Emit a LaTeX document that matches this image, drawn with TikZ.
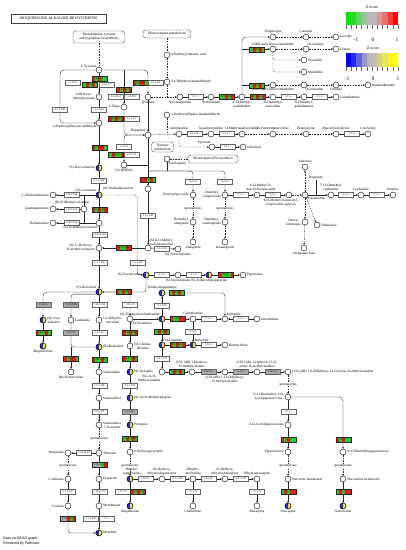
\documentclass[tikz,border=0pt]{standalone}
\usepackage{fontspec}
\setmainfont{Liberation Serif}
\setsansfont{Liberation Sans}
\usetikzlibrary{arrows.meta,calc}
\pgfdeclarelayer{bg}
\pgfsetlayers{bg,main}
\definecolor{cr}{RGB}{232,30,35}
\definecolor{cg}{RGB}{40,205,40}
\definecolor{cy}{RGB}{168,168,168}
\definecolor{cB}{RGB}{40,40,225}
\definecolor{cY}{RGB}{240,228,40}
\definecolor{eB}{RGB}{100,100,100}
\definecolor{zg1}{RGB}{0,230,0}\definecolor{zg2}{RGB}{40,220,40}\definecolor{zg3}{RGB}{100,210,100}
\definecolor{zg4}{RGB}{150,195,150}\definecolor{zg5}{RGB}{185,185,185}\definecolor{zg6}{RGB}{192,180,180}
\definecolor{zg7}{RGB}{215,150,150}\definecolor{zg8}{RGB}{235,110,110}\definecolor{zg9}{RGB}{245,60,60}\definecolor{zg10}{RGB}{255,0,0}
\definecolor{zb1}{RGB}{0,0,255}\definecolor{zb2}{RGB}{40,40,240}\definecolor{zb3}{RGB}{100,100,220}
\definecolor{zb4}{RGB}{150,150,200}\definecolor{zb5}{RGB}{185,185,185}\definecolor{zb6}{RGB}{192,192,170}
\definecolor{zb7}{RGB}{210,210,130}\definecolor{zb8}{RGB}{230,230,90}\definecolor{zb9}{RGB}{245,245,40}\definecolor{zb10}{RGB}{255,255,0}
\tikzset{
  met/.style={circle,draw=black,fill=white,inner sep=0pt,outer sep=0pt,minimum size=6pt,line width=0.4pt},
  enz/.style={rectangle,draw=eB,fill=white,inner sep=0pt,outer sep=0pt,minimum width=15pt,minimum height=5pt,line width=0.35pt,font=\fontsize{2.7}{2.7}\selectfont},
  etx/.style={inner sep=0pt,font=\fontsize{2.7}{2.7}\selectfont},
  lb/.style={font=\fontsize{3.5}{3.9}\selectfont,inner sep=0.4pt,align=center},
  pw/.style={rectangle,rounded corners=3pt,draw=black!70,fill=white,line width=0.35pt,font=\fontsize{3.5}{3.9}\selectfont,align=center,inner sep=1pt},
  ln/.style={draw=black!85,line width=0.35pt},
  dl/.style={ln,dash pattern=on 1.6pt off 1.1pt},
  ar/.style={-{Stealth[length=2.2pt,width=1.8pt]}},
  sp/.style={lb,fill=white,inner sep=0.2pt},
}
\newcommand\Mt[5]{\node[met] (#1) at (#2,#3) {};\node[lb,#4] (#1-l) at (#1) {#5};}
\newcommand\Byz[5]{\node[met] (#1) at (#2,#3) {};
  \begin{scope}\clip (#1) circle (3pt);
  \fill[cB] ($(#1)+(-3.1,-3.1)$) rectangle ($(#1)+(0,3.1)$);
  \fill[cY] ($(#1)+(0,-3.1)$) rectangle ($(#1)+(3.1,3.1)$);
  \end{scope}
  \draw[line width=0.4pt] (#1) circle (3pt);
  \node[lb,#4] (#1-l) at (#1) {#5};}
\newcommand\Ez[4]{\node[enz] (#1) at (#2,#3) {#4};}
\newcommand\Gz[4]{\node[enz,fill=cy] (#1) at (#2,#3) {#4};}
\newcommand\Cz[5]{\node[enz] (#1) at (#2,#3) {};
  \foreach \stc [count=\i from 0] in {#5}{\fill[\stc] ($(#1.north west)+(\i*3,0)$) rectangle ++(3,5);}
  \draw[black!85,line width=0.35pt] (#1.north west) rectangle (#1.south east);
  \node[etx] at (#1) {#4};}
\begin{document}
\begin{tikzpicture}[x=1pt,y=-1pt]
\useasboundingbox (0,0) rectangle (406,550);
\begin{pgfonlayer}{bg}\fill[white] (0,0) rectangle (406,550);\end{pgfonlayer}

% ---------- title and pathway boxes
\node[draw=black!75,line width=0.5pt,minimum width=95pt,minimum height=9pt,inner sep=0pt,font=\fontsize{3.9}{4}\selectfont] (title) at (58.5,18.5) {ISOQUINOLINE ALKALOID BIOSYNTHESIS};
\node[pw,minimum width=52pt,minimum height=12pt] (pwA) at (99,37) {Phenylalanine, tyrosine\\and tryptophan biosynthesis};
\node[pw,minimum width=48pt,minimum height=8pt] (pwB) at (167,34) {Phenylalanine metabolism};
\node[pw,minimum width=22pt,minimum height=10pt] (pwC) at (162.5,147) {Tyrosine\\metabolism};
\node[pw,minimum width=50pt,minimum height=8pt] (pwD) at (213,159) {Monoterpenoid biosynthesis};

% ---------- metabolites, upper left
\Mt{tyr}{99}{70}{anchor=south east,xshift=-2pt,yshift=1pt}{L-Tyrosine}
\Mt{hpp}{99}{97}{left=3.5pt}{4-Hydroxy-\\phenylpyruvate}
\Mt{hpaa}{99}{123}{anchor=north east,xshift=-2pt,yshift=-1pt}{4-Hydroxyphenylacetaldehyde}
\Mt{ldopa}{124}{107}{left=3.5pt}{L-Dopa}
\Mt{tyra}{148}{97}{below=3.5pt}{Tyramine}
\Mt{hca}{167}{55}{right=3.5pt}{4-Hydroxycinnamic acid}
\Mt{dhba}{167}{82}{right=3.5pt}{3,4-Dihydroxybenzaldehyde}
\Mt{hdca}{167}{115}{right=3.5pt}{4-Hydroxydihydrocinnamaldehyde}
\Mt{dopa}{148}{135}{anchor=south east,xshift=-2pt,yshift=2pt}{Dopamine}
\Mt{dhpaa}{124}{165}{below=3.5pt}{3,4-DHPAA}
\Byz{norc}{99}{168}{left=3.5pt}{(S)-Norcoclaurine}
\Byz{coc}{99}{195}{anchor=south east,xshift=-2pt,yshift=2pt}{(S)-Coclaurine}
\Mt{nlaud}{148}{189}{left=14pt}{(S)-Norlaudanosoline}
\Mt{nbm}{53}{195}{left=3.5pt}{2'-Norberbamunine}
\Mt{guat}{53}{209}{left=3.5pt}{Guattegaumerine}
\Mt{berb}{53}{223}{left=3.5pt}{Berbamunine}
\Mt{rnmc}{84}{209}{anchor=south,xshift=-12pt,yshift=4pt}{(R)-N-Methylcoclaurine}
\Mt{snmc}{99}{223}{anchor=north east,xshift=-1pt,yshift=-2pt}{(S)-N-Methylcoclaurine}
\Mt{s3h}{99}{248}{left=3.5pt}{(S)-3'-Hydroxy-\\N-methylcoclaurine}
\Mt{omn}{148}{248}{anchor=south west,xshift=1pt,yshift=2pt}{(S)-6-O-Methyl-\\norlaudanosoline}
\Mt{noro}{178}{249}{below=3.5pt}{(S)-Nororientaline}
\Byz{norr}{146}{275}{left=3.5pt}{(S)-Norreticuline}
\Mt{nlau}{178}{275}{below=3.5pt}{(S)-Norlaudanine}
\Byz{thp}{209}{275}{below=3.5pt}{(S)-Tetrahydropapaverine}
\Mt{pap}{243}{275}{right=3.5pt}{Papaverine}
\Byz{sret}{99}{292}{anchor=south east,xshift=-2pt,yshift=2pt}{(S)-Reticuline}

% ---------- morphine / magnoflorine column
\Byz{cory}{43}{320}{right=3.5pt}{(S)-Cory-\\tuberine}
\Byz{magn}{43}{346}{below=3.5pt}{Magnoflorine}
\Mt{laud}{71}{320}{right=3.5pt}{Laudanine}
\Mt{dhr}{99}{320}{right=3.5pt}{1,2-Dehydro-\\reticuline}
\Byz{rret}{99}{347}{right=3.5pt}{(R)-Reticuline}
\Mt{rnor}{71}{372}{below=3.5pt}{(R)-Norreticuline}
\Mt{salu}{99}{372}{right=3.5pt}{Salutaridine}
\Mt{salol}{99}{398}{right=3.5pt}{Salutaridinol}
\Mt{salac}{99}{425}{right=3.5pt}{Salutaridinol\\7-O-acetate}
\Mt{theb}{99}{453}{right=3.5pt}{Thebaine}
\Mt{neop}{68}{453}{left=3.5pt}{Neopinone}
\Mt{codn}{68}{479}{left=3.5pt}{Codeinone}
\Mt{cod}{68}{506}{left=3.5pt}{Codeine}
\Mt{orip}{99}{479}{right=3.5pt}{Oripavine}
\Mt{mone}{99}{506}{right=3.5pt}{Morphinone}
\Byz{morph}{99}{533}{right=3.5pt}{Morphine}

% ---------- sanguinarine column
\Mt{scou}{130}{319}{anchor=north west,xshift=1pt,yshift=-2.5pt}{(S)-Scoulerine}
\Mt{chei}{130}{346}{right=3.5pt}{(S)-Cheilan-\\thifoline}
\Byz{styl}{130}{372}{right=3.5pt}{(S)-Stylopine}
\Byz{cnms}{130}{398}{right=3.5pt}{(S)-cis-N-Methylstylopine}
\Byz{prot}{130}{425}{right=3.5pt}{Protopine}
\Mt{hprot}{130}{452}{right=3.5pt}{6-Hydroxyprotopine}
\Byz{dhs}{130}{479}{anchor=south,xshift=2pt,yshift=3.5pt}{Dihydro-\\sanguinarine}
\Byz{sang}{130}{506}{below=3.5pt}{Sanguinarine}
\Mt{hdhs}{162}{479}{above=3.5pt}{10-Hydroxy-\\dihydrosanguinarine}
\Mt{dhc}{193}{479}{above=3.5pt}{Dihydro-\\chelirubine}
\Mt{hdhc}{225}{479}{above=3.5pt}{12-Hydroxy-\\dihydrochelirubine}
\Mt{dhm}{257}{479}{above=3.5pt}{Dihydromacarpine}
\Mt{cheli}{193}{506}{below=3.5pt}{Chelirubine}
\Mt{maca}{257}{506}{below=3.5pt}{Macarpine}

% ---------- berberine / noscapine
\Byz{thpal}{162}{293}{above=3.5pt}{Tetrahydropalmatine}
\Byz{thc}{162}{319}{anchor=south east,xshift=-1.5pt,yshift=2pt}{(S)-Tetrahydrocolumbamine}
\Mt{colu}{193}{319}{above=3.5pt}{Columbamine}
\Mt{palm}{225}{319}{anchor=south west,xshift=1pt,yshift=2.5pt}{Palmatine}
\Mt{jatr}{257}{319}{right=3.5pt}{Jatrorrhizine}
\Byz{can}{162}{345}{anchor=south west,xshift=1pt,yshift=2.5pt}{(S)-Canadine}
\Byz{berbe}{193}{345}{anchor=south west,xshift=1pt,yshift=2.5pt}{Berberine}
\Mt{bbr}{225}{345}{right=3.5pt}{Berberrubine}
\Mt{cnmc}{162}{372}{anchor=north east,xshift=-1pt,yshift=-2.5pt}{(S)-cis-N-\\Methylcanadine}
\Mt{hnm}{192}{372}{above=3.5pt}{(13S,14R)-1-Hydroxy-\\N-methylcanadine}
\Mt{dhnm}{225}{372}{below=3.5pt}{(13S,14R)-1,13-Dihydroxy-\\N-methylcanadine}
\Mt{hac}{257}{372}{above=3.5pt}{(13S,14R)-1-Hydroxy-13-O-\\acetyl-N-methylcanadine}
\Mt{dhac}{288}{372}{right=3.5pt}{(13S,14R)-1,8-Dihydroxy-13-O-acetyl-N-methylcanadine}
\Mt{dapx}{288}{397}{left=3.5pt}{4'-O-Desmethyl-3-O-\\acetylpapaveroxine}
\Mt{apx}{288}{425}{left=3.5pt}{3-O-Acetylpapaveroxine}
\Mt{ppx}{288}{452}{left=3.5pt}{Papaveroxine}
\Mt{nhemi}{288}{479}{right=3.5pt}{Narcotine hemiacetal}
\Byz{nosc}{288}{506}{below=3.5pt}{Noscapine}
\Mt{dppx}{343}{452}{right=3.5pt}{4'-O-Desmethylpapaveroxine}
\Mt{nthemi}{343}{479}{right=3.5pt}{Narcotoline hemiacetal}
\Byz{narc}{343}{506}{below=3.5pt}{Narcotoline}

% ---------- Amaryllidaceae
\Mt{ncr}{180}{97}{below=3.5pt}{Norcraugsodine}
\Mt{nbel}{211}{97}{below=3.5pt}{Norbelladine}
\Mt{mnb}{242}{97}{below=3.5pt}{4'-O-Methyl-\\norbelladine}
\Mt{ndn}{273}{97}{below=3.5pt}{N-Demethyl-\\narwedine}
\Mt{ndg}{304}{97}{below=3.5pt}{N-Demethyl-\\galanthamine}
\Mt{gal}{336}{97}{right=3.5pt}{Galanthamine}
\Mt{npl}{273}{37}{above=3.5pt}{Norpluviine}
\Mt{car}{306}{37}{above=3.5pt}{Caranine}
\Mt{lyc}{336}{37}{right=3pt}{Lycorine}
\Mt{nox1}{273}{49}{above=2.5pt}{(10bR,4aS)-Noroxomaritidine}
\Mt{oxc}{306}{49}{anchor=south west,xshift=1pt,yshift=2.5pt}{Oxocrinine}
\Mt{crin}{336}{49}{right=3.5pt}{Crinine}
\Mt{pow}{304}{60}{right=3.5pt}{Powelline}
\Mt{mari}{304}{72}{right=3.5pt}{Maritidine}
\Mt{nox2}{273}{85}{below=2.5pt}{(10bS,4aR)-Noroxomaritidine}
\Mt{oxv}{304}{85}{anchor=north west,xshift=1pt,yshift=-2.5pt}{Oxovittatine}
\Mt{vitt}{336}{85}{below=2.5pt}{Vittatine}
\Mt{haem}{368}{85}{right=3.5pt}{Haemanthamine}

% ---------- colchicine
\Mt{aut}{179}{134}{above=3.5pt}{Autumnaline}
\Mt{iso}{211}{134}{above=3.5pt}{Isoandrocymbine}
\Mt{oma}{242}{134}{above=3.5pt}{O-Methylandrocymbine}
\Mt{nfd}{273}{134}{above=3.5pt}{N-Formyldemecolcine}
\Mt{dem}{306}{134}{above=3.5pt}{Demecolcine}
\Mt{dac}{336}{134}{above=3.5pt}{Deacetylcolchicine}
\Mt{colc}{368}{134}{above=3.5pt}{Colchicine}
\Mt{p1}{212}{147}{anchor=south east,xshift=-1pt,yshift=2pt}{Pyruvate}
\Mt{p2}{243}{147}{right=3.5pt}{Salsolinol}

% ---------- ipecac / emetine
\Mt{seco}{167}{159}{anchor=north west,xshift=1pt,yshift=-2pt}{Secologanin}
\Mt{dip}{193}{195}{left=3.5pt}{Deacetylipecoside}
\Mt{dmal}{193}{222}{left=3.5pt}{Demethyl-\\alangiside}
\Mt{alg}{193}{242}{below=3.5pt}{Alangiside}
\Mt{diso}{225}{195}{left=3.5pt}{Deacetyl-\\isoipecoside}
\Mt{dmia}{225}{222}{left=3.5pt}{Demethyl-\\isoalangiside}
\Mt{isoal}{225}{242}{below=3.5pt}{Isoalangiside}
\Mt{mdi}{257}{195}{anchor=south,xshift=4pt,yshift=3.5pt}{6-O-Methyl-N-\\deacetylisoipecoside}
\Mt{agl}{289}{195}{anchor=north,xshift=-8pt,yshift=-3.5pt}{6-O-Methyl-N-deacetyl-\\isoipecoside aglycon}
\Mt{protoem}{305}{195}{anchor=north west,xshift=1pt,yshift=-2pt}{Protoemetine}
\Mt{ank}{305}{167}{above=3.5pt}{Ankorine}
\Mt{dmc}{331}{195}{above=3.5pt}{7'-O-Demethyl-\\cephaeline}
\Mt{ceph}{361}{195}{above=3.5pt}{Cephaeline}
\Mt{emet}{393}{195}{above=3.5pt}{Emetine}
\Mt{dtub}{305}{222}{left=3.5pt}{Deoxy-\\tubulosine}
\Mt{tub}{317}{225}{right=3.5pt}{Tubulosine}
\Mt{alm}{304}{248}{below=3.5pt}{Alangimarckine}
\node[lb] (dopt) at (316,178) {Dopamine};

% ---------- junction points
\coordinate (jt1) at (124,70);
\coordinate (jtl) at (60,123);
\coordinate (jd) at (148,165);
\coordinate (jn1) at (167,97);
\coordinate (jn2) at (167,134);
\coordinate (js) at (148,171);
\coordinate (jsc) at (167,171);
\coordinate (jdo) at (316,195);
\coordinate (jr1) at (84,195);
\coordinate (jr2) at (84,223);
\coordinate (jcc) at (137.5,258);
\coordinate (jl1) at (71,347);
\coordinate (jm1) at (242,49);
\coordinate (jm2) at (242,85);

% ---------- enzyme boxes
\Cz{e1}{99.5}{78.5}{2.6.1.5}{cr,cg,cr,cg,cg}
\Cz{e2}{90}{84.5}{2.6.1.1}{cg,cr,cg,cr,cg}
\Ez{e3}{106.5}{84.5}{2.6.1.57}
\Ez{e4}{73}{82.5}{1.4.3.2}
\Ez{e5}{60}{109.5}{4.1.1.108}
\Ez{e6}{99}{109.5}{4.1.1.80}
\Cz{e7}{124}{90}{1.14.18.1}{cr,cg,cr,cg,cr}
\Ez{e8}{116}{96.5}{1.14.16.2}
\Ez{e9}{131.5}{96.5}{1.14.18.1}
\Cz{e10}{140.5}{82.5}{4.1.1.25}{cr,cg,cr,cr,cg}
\Ez{e11}{155.5}{82.5}{4.1.1.28}
\Cz{e12}{116}{118.5}{4.1.1.28}{cr,cg,cr,cg,cr}
\Ez{e13}{131.5}{118.5}{4.1.1.25}
\Cz{e14}{99.5}{147.5}{4.2.1.78}{cr,cg,cr,cr,cg}
\Ez{e15}{124}{146.5}{1.4.3.4}
\Cz{e16}{116}{154.5}{1.4.3.4}{cg,cr,cg,cg,cr}
\Ez{e17}{131.5}{154.5}{4.2.1.78}
\Cz{e18}{148}{179.5}{4.2.1.78}{cr,cr,cg,cr,cg}
\Ez{e19}{99}{180.5}{2.1.1.128}
\Ez{e20}{71.5}{195}{1.14.19.66}
\Ez{e21}{71.5}{209.5}{1.14.19.66}
\Ez{e22}{71.5}{223}{1.14.19.66}
\Cz{e23}{99.5}{209.5}{2.1.1.140}{cr,cg,cr,cg,cr}
\Ez{e24}{99.5}{235}{1.14.14.102}
\Cz{e25}{124}{248}{2.1.1.140}{cr,cg,cg,cr,cr}
\Ez{e26}{148}{215.5}{2.1.1.128}
\Ez{e27}{162}{248.5}{2.1.1.116}
\Ez{e28}{99.5}{262.5}{2.1.1.116}
\Ez{e29}{137.5}{262.5}{2.1.1.116}
\Ez{e30}{162}{275}{2.1.1.-}
\Ez{e31}{194}{275}{2.1.1.-}
\Cz{e32}{226}{275}{1.5.3.-}{cr,cg,cg,cg,cr}
\Cz{e33}{123.5}{292}{2.1.1.140}{cr,cg,cr,cg,cr}
\Gz{e34}{43.5}{305}{1.14.19.-}
\Cz{e35}{43.5}{332.5}{2.1.1.-}{cr,cg,cg,cr,cg}
\Gz{e36}{71}{305}{1.14.19.54}
\Gz{e37}{71}{332.5}{1.5.1.27}
\Ez{e38}{99.5}{305}{1.14.19.54}
\Ez{e39}{99.5}{332.5}{1.5.1.27}
\Ez{e40}{130}{305}{1.21.3.3}
\Cz{e41}{130}{332.5}{1.14.19.65}{cr,cg,cr,cg,cr}
\Cz{e42}{130}{358.5}{1.14.19.64}{cr,cg,cg,cr,cg}
\Ez{e43}{130}{385.5}{2.1.1.122}
\Gz{e44}{130}{412}{1.14.19.-}
\Cz{e45}{130}{439}{1.14.14.98}{cg,cr,cg,cr,cg}
\Ez{e46}{122.5}{492}{1.5.3.12}
\Cz{e47}{138}{492}{1.5.3.12}{cr,cg,cr,cg,cr}
\Ez{e48}{145.5}{479}{1.14.14.-}
\Ez{e49}{177.5}{479}{2.1.1.119}
\Ez{e50}{209}{479}{1.14.14.-}
\Ez{e51}{241}{479}{2.1.1.120}
\Ez{e52}{193}{491.5}{1.5.3.12}
\Ez{e53}{257}{491.5}{1.5.3.12}
\Ez{e54}{162}{306}{2.1.1.89}
\Cz{e55}{176.5}{293}{1.3.3.8}{cg,cr,cg,cr,cg}
\Cz{e56}{177.5}{319}{1.3.3.8}{cr,cg,cg,cr,cr}
\Ez{e57}{209}{319}{2.1.1.-}
\Ez{e58}{241}{319}{2.1.1.-}
\Cz{e59}{162}{331.5}{1.14.19.68}{cg,cr,cg,cr,cg}
\Ez{e60}{193}{332}{1.14.19.-}
\Cz{e61}{177.5}{345}{1.3.3.8}{cr,cg,cr,cg,cr}
\Ez{e62}{209}{345}{1.14.-.-}
\Ez{e63}{162}{358.5}{2.1.1.122}
\Cz{e64}{177}{372}{1.14.14.-}{cg,cr,cg,cr,cg}
\Gz{e65}{208.5}{372}{1.14.14.-}
\Gz{e66}{241}{372}{2.3.1.-}
\Gz{e67}{272.5}{372}{1.14.14.-}
\Ez{e68}{288.5}{411.5}{2.1.1.-}
\Cz{e69}{288.5}{439.5}{3.1.1.-}{cr,cg,cr,cg,cg}
\Cz{e70}{288.5}{492}{1.1.1.-}{cg,cr,cg,cr,cr}
\Cz{e71}{343.5}{439.5}{3.1.1.-}{cr,cg,cr,cg,cg}
\Cz{e72}{343.5}{492}{1.1.1.-}{cg,cr,cg,cr,cr}
\Cz{e73}{99.5}{359.5}{1.14.19.67}{cr,cg,cg,cr,cg}
\Cz{e74}{71}{359}{1.5.1.-}{cr,cg,cr,cr,cg}
\Ez{e75}{99.5}{385.5}{1.1.1.248}
\Ez{e76}{99.5}{411.5}{2.3.1.150}
\Cz{e77}{99.5}{465}{1.14.11.31}{cy,cy,cy,cg,cr}
\Ez{e78}{84}{453}{1.14.11.32}
\Ez{e79}{99.5}{492}{1.14.11.31}
\Ez{e80}{91}{519}{1.1.1.247}
\Ez{e81}{107}{519}{1.3.1.-}
\Ez{e82}{68}{492}{1.1.1.247}
\Cz{e83}{68}{519}{1.14.11.32}{cy,cy,cr,cg,cr}
\Ez{e84}{195.5}{97}{1.1.1.-}
\Cz{e85}{226.5}{97}{2.1.1.336}{cg,cg,cr,cg,cr}
\Cz{e86}{257.5}{97}{1.14.19.-}{cr,cg,cr,cg,cr}
\Cz{e87}{257}{49.5}{1.14.19.-}{cg,cr,cg,cr,cg}
\Cz{e88}{257}{85.5}{1.14.19.-}{cg,cr,cg,cr,cg}
\Ez{e89}{288.5}{97}{1.1.1.-}
\Ez{e90}{320}{97}{2.1.1.-}
\Ez{e91}{195}{134}{1.14.19.-}
\Ez{e92}{226.5}{134}{2.1.1.-}
\Ez{e93}{352}{134}{2.3.1.-}
\Ez{e94}{227.5}{147}{2.1.1.-}
\Ez{e95}{193}{182}{4.3.3.4}
\Ez{e96}{225}{182}{4.3.3.3}
\Ez{e97}{241}{195}{2.1.1.-}
\Ez{e98}{273}{195}{3.2.1.-}
\Ez{e99}{346}{195}{2.1.1.-}
\Ez{e100}{377}{195}{2.1.1.-}

% ---------- "spontaneous" notes
\node[sp] (sp1) at (99,438.5) {spontaneous};
\node[sp] (sp2) at (68,466) {spontaneous};
\node[sp] (sp3) at (130,465.5) {spontaneous};
\node[sp] (sp4) at (288,384.5) {spontaneous};
\node[sp] (sp5) at (288,465.5) {spontaneous};
\node[sp] (sp6) at (343,465.5) {spontaneous};
\node[sp] (sp7) at (193,208.5) {spontaneous};
\node[sp] (sp8) at (225,208.5) {spontaneous};

% ---------- connectors (behind)
\begin{pgfonlayer}{bg}
\draw[dl] (pwA) -- (tyr);
\draw[ln,ar] (tyr) -- (hpp);
\draw[ln,ar] (hpp) -- (hpaa);
\draw[ln,ar,rounded corners=4pt] (tyr.west) -| (jtl) -- (hpaa.west);
\draw[ln,ar,rounded corners=4pt] (tyr.east) -| (tyra.north);
\draw[ln,ar] (jt1) -- (ldopa);
\draw[ln,ar,rounded corners=4pt] (ldopa.south) |- (dopa.west);
\draw[ln,ar] (tyra) -- (dopa);
\draw[ln,ar,rounded corners=3pt] (dopa.west) -| (dhpaa.north);
\draw[ln,ar] (hpaa) -- (norc);
\draw[ln,ar] (dopa) -- (nlaud);
\draw[ln] (dhpaa.east) -- (jd);
\draw[dl] (pwB) -- (hca);
\draw[dl,ar] (hca) -- (dhba);
\draw[dl] (dhba) -- (jn1);
\draw[dl,ar] (tyra) -- (ncr);
\draw[dl] (hdca) -- (jn2);
\draw[dl,ar] (dopa) -- (aut);
\draw[dl,ar,rounded corners=2pt] (aut.south) |- (p1.west);
\draw[ln,ar] (p1) -- (p2);
\draw[ln,ar] (aut) -- (iso);
\draw[ln,ar] (iso) -- (oma);
\draw[dl,ar] (oma) -- (nfd);
\draw[dl,ar] (nfd) -- (dem);
\draw[dl,ar] (dem) -- (dac);
\draw[ln,ar] (dac) -- (colc);
% Amaryllidaceae
\draw[ln,ar] (ncr) -- (nbel);
\draw[ln,ar] (nbel) -- (mnb);
\draw[ln,ar] (mnb) -- (ndn);
\draw[ln,ar] (ndn) -- (ndg);
\draw[ln,ar] (ndg) -- (gal);
\draw[ln,ar,rounded corners=4pt] (mnb.north) |- (npl.west);
\draw[ln,ar] (jm1) -- (nox1);
\draw[ln,ar] (jm2) -- (nox2);
\draw[dl,ar] (npl) -- (car);
\draw[dl,ar] (car) -- (lyc);
\draw[dl,ar] (nox1) -- (oxc);
\draw[dl,ar] (oxc) -- (crin);
\draw[dl,ar,rounded corners=2pt] (nox1.south) |- (pow.west);
\draw[dl,ar,rounded corners=2pt] (nox1.south) |- (mari.west);
\draw[dl,ar] (nox2) -- (oxv);
\draw[dl,ar] (oxv) -- (vitt);
\draw[dl,ar] (vitt) -- (haem);
% ipecac
\draw[dl] (pwD.west) -- (seco.east);
\draw[ln] (seco) -- (jsc);
\draw[ln,ar,rounded corners=3pt] (js) -| (dip.north);
\draw[ln,ar,rounded corners=3pt] (js) -| (diso.north);
\draw[dl,ar] (dip) -- (dmal);
\draw[dl,ar] (dmal) -- (alg);
\draw[dl,ar] (diso) -- (dmia);
\draw[dl,ar] (dmia) -- (isoal);
\draw[ln,ar] (diso) -- (mdi);
\draw[ln,ar] (mdi) -- (agl);
\draw[dl,ar] (agl) -- (protoem);
\draw[ln,ar] (protoem) -- (dmc);
\draw[ln] (dopt.south) -- (jdo);
\draw[ln,ar] (dmc) -- (ceph);
\draw[ln,ar] (ceph) -- (emet);
\draw[dl,ar] (protoem) -- (ank);
\draw[dl,ar] (protoem) -- (dtub);
\draw[dl,ar] (protoem) -- (tub);
\draw[dl,ar] (dtub) -- (alm);
% benzylisoquinolines
\draw[ln,ar] (norc) -- (coc);
\draw[ln,ar] (coc) -- (snmc);
\draw[ln,ar] (snmc) -- (s3h);
\draw[ln,ar] (s3h) -- (sret);
\draw[ln,ar] (coc) -- (nbm);
\draw[ln,ar] (rnmc) -- (guat);
\draw[ln,ar] (snmc) -- (berb);
\draw[ln] (rnmc) -- (jr1);
\draw[ln] (rnmc) -- (jr2);
\draw[dl,rounded corners=3pt] (coc.east) -| (jcc);
\draw[ln,ar,rounded corners=3pt] (jcc) |- (norr.west);
\draw[ln,ar] (nlaud) -- (omn);
\draw[ln,ar] (omn) -- (s3h);
\draw[ln,ar] (omn) -- (noro);
\draw[ln,ar] (norr) -- (nlau);
\draw[ln,ar] (nlau) -- (thp);
\draw[ln,ar] (thp) -- (pap);
\draw[ln,ar,rounded corners=3pt] (norr.south) |- (sret.east);
\draw[ln,ar,rounded corners=4pt] (sret.west) -| (cory.north);
\draw[ln,ar] (cory) -- (magn);
\draw[ln,ar,rounded corners=3pt] (sret.south west) -| (laud.north);
\draw[ln,rounded corners=3pt] (laud.south) |- (rret.west);
\draw[ln,ar] (jl1) -- (rnor);
\draw[ln,ar] (sret) -- (dhr);
\draw[ln,ar] (dhr) -- (rret);
\draw[ln,ar] (rret) -- (salu);
\draw[ln,ar] (salu) -- (salol);
\draw[ln,ar] (salol) -- (salac);
\draw[dl,ar] (salac) -- (theb);
\draw[ln,ar] (theb) -- (neop);
\draw[dl,ar] (neop) -- (codn);
\draw[ln,ar] (codn) -- (cod);
\draw[ln,ar,rounded corners=3pt] (cod.south) |- (morph.west);
\draw[ln,ar] (theb) -- (orip);
\draw[ln,ar] (orip) -- (mone);
\draw[ln,ar] (mone) -- (morph);
% protoberberines
\draw[ln,ar,rounded corners=3pt] (sret.east) -| (scou.north);
\draw[ln,ar] (scou) -- (chei);
\draw[ln,ar] (chei) -- (styl);
\draw[ln,ar] (styl) -- (cnms);
\draw[ln,ar] (cnms) -- (prot);
\draw[ln,ar] (prot) -- (hprot);
\draw[dl,ar] (hprot) -- (dhs);
\draw[ln,ar] (dhs) -- (sang);
\draw[ln,ar] (dhs) -- (hdhs);
\draw[ln,ar] (hdhs) -- (dhc);
\draw[ln,ar] (dhc) -- (hdhc);
\draw[ln,ar] (hdhc) -- (dhm);
\draw[ln,ar] (dhc) -- (cheli);
\draw[ln,ar] (dhm) -- (maca);
\draw[ln,ar] (scou) -- (thc);
\draw[ln,ar] (thc) -- (thpal);
\draw[ln,ar,rounded corners=3pt] (thpal.east) -| (palm.north);
\draw[ln,ar] (thc) -- (colu);
\draw[ln,ar] (colu) -- (palm);
\draw[ln,ar] (jatr) -- (palm);
\draw[ln,ar] (thc) -- (can);
\draw[ln,ar] (colu) -- (berbe);
\draw[ln,ar] (can) -- (berbe);
\draw[ln,ar] (berbe) -- (bbr);
\draw[ln,ar] (can) -- (cnmc);
\draw[ln,ar] (cnmc) -- (hnm);
\draw[ln,ar] (hnm) -- (dhnm);
\draw[ln,ar] (dhnm) -- (hac);
\draw[ln,ar] (hac) -- (dhac);
\draw[dl,ar] (dhac) -- (dapx);
\draw[ln,ar] (dapx) -- (apx);
\draw[ln,ar] (apx) -- (ppx);
\draw[dl,ar] (ppx) -- (nhemi);
\draw[ln,ar] (nhemi) -- (nosc);
\draw[ln,ar,rounded corners=4pt] (dapx.east) -| (dppx.north);
\draw[dl,ar] (dppx) -- (nthemi);
\draw[ln,ar] (nthemi) -- (narc);
\end{pgfonlayer}

% ---------- legends
\node[lb,font=\fontsize{4}{4.4}\selectfont] (zt1) at (372,7) {Z-score};
\foreach \cl [count=\i from 0] in {zg1,zg2,zg3,zg4,zg5,zg6,zg7,zg8,zg9,zg10}{\fill[\cl] (346+\i*5.2,12) rectangle ++(5.2,13);}
\foreach \i in {0,...,10}{\draw[black!60,line width=0.3pt] (346+\i*5.2,25) -- ++(0,3.5);}
\node[font=\fontsize{5.5}{6}\selectfont,inner sep=0pt] (zl1) at (356,40) {-1};
\node[font=\fontsize{5.5}{6}\selectfont,inner sep=0pt] (zl2) at (373,40) {0};
\node[font=\fontsize{5.5}{6}\selectfont,inner sep=0pt] (zl3) at (397,40) {1};
\node[lb,font=\fontsize{4}{4.4}\selectfont] (zt2) at (373,48) {Z-score};
\foreach \cl [count=\i from 0] in {zb1,zb2,zb3,zb4,zb5,zb6,zb7,zb8,zb9,zb10}{\fill[\cl] (346+\i*5.2,53) rectangle ++(5.2,14);}
\foreach \i in {0,...,10}{\draw[black!60,line width=0.3pt] (346+\i*5.2,67) -- ++(0,3.5);}
\node[font=\fontsize{5.5}{6}\selectfont,inner sep=0pt] (zl4) at (347,79) {-1};
\node[font=\fontsize{5.5}{6}\selectfont,inner sep=0pt] (zl5) at (373,79) {0};
\node[font=\fontsize{5.5}{6}\selectfont,inner sep=0pt] (zl6) at (398,79) {1};

\node[anchor=north west,align=left,inner sep=0pt,font=\sffamily\fontsize{3.6}{4.3}\selectfont] (note) at (3,537) {Data on KEGG graph\\Rendered by Pathvisio};
\end{tikzpicture}
\end{document}
